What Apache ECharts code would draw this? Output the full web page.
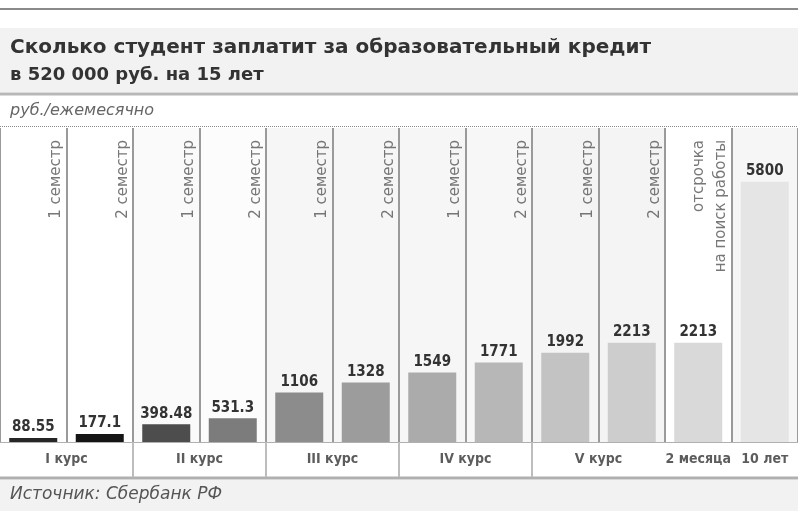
<!DOCTYPE html>
<html>
<head>
<meta charset="utf-8">
<script src="https://cdn.jsdelivr.net/npm/echarts@6/dist/echarts.min.js"></script>
<style>
  html, body { margin: 0; padding: 0; background: #fff; }
  #chart { width: 798px; height: 522px; }
</style>
</head>
<body>
<div id="chart"></div>
<script>
// semester / period captions, one per column
const semesters = ['1 семестр', '2 семестр', '1 семестр', '2 семестр', '1 семестр', '2 семестр',
  '1 семестр', '2 семестр', '1 семестр', '2 семестр', 'отсрочка\nна поиск работы', '']
// monthly payment, rub.
const payments = [88.55, 177.1, 398.48, 531.3, 1106, 1328, 1549, 1771, 1992, 2213, 2213, 5800]
// course groups under the columns and how many columns each covers
const groups = ['I курс', 'II курс', 'III курс', 'IV курс', 'V курс', '2 месяца', '10 лет']
const groupSpans = [2, 2, 2, 2, 2, 1, 1]

const barColors = ['#262626', '#151515', '#4d4d4d', '#7c7c7c', '#8c8c8c', '#9c9c9c',
  '#ababab', '#b7b7b7', '#c3c3c3', '#cdcdcd', '#d9d9d9', '#e5e5e5']
const colBg = ['#ffffff', '#ffffff', '#fafafa', '#fcfcfc', '#f6f6f6', '#f6f6f6',
  '#f6f6f6', '#f7f7f7', '#f4f4f4', '#f4f4f4', '#ffffff', '#f6f6f6']

const yMax = 7000
const narrow = '"DejaVu Sans Condensed", "Liberation Sans Narrow", sans-serif'

const chart = echarts.init(document.getElementById('chart'))

// group label positions on a 0..12 column scale
let start = 0
const groupData = groups.map((g, i) => {
  const d = { value: [start + groupSpans[i] / 2, 0.5], name: g }
  start += groupSpans[i]
  return d
})
const groupBounds = []
start = 0
groupSpans.forEach((s, i) => { if (i > 0 && i < 5) groupBounds.push({ xAxis: start }); start += s })

chart.setOption({
  animation: false,
  title: [
    { text: 'Сколько студент заплатит за образовательный кредит', left: 10, top: 38, padding: 0,
      textStyle: { fontFamily: 'DejaVu Sans', fontSize: 20, fontWeight: 'bold', color: '#333' } },
    { text: 'в 520 000 руб. на 15 лет', left: 10, top: 66, padding: 0,
      textStyle: { fontFamily: 'DejaVu Sans', fontSize: 18, fontWeight: 'bold', color: '#333' } },
    { text: 'руб./ежемесячно', left: 10, top: 103, padding: 0,
      textStyle: { fontFamily: 'DejaVu Sans', fontSize: 16, fontStyle: 'italic', fontWeight: 'normal', color: '#666' } },
    { text: 'Источник: Сбербанк РФ', left: 10, top: 486, padding: 0,
      textStyle: { fontFamily: 'DejaVu Sans', fontSize: 17, fontStyle: 'italic', fontWeight: 'normal', color: '#555' } }
  ],
  graphic: [
    { type: 'line', shape: { x1: 0, y1: 9, x2: 798, y2: 9 }, style: { stroke: '#8a8a8a', lineWidth: 2 } },
    { type: 'rect', shape: { x: 0, y: 28, width: 798, height: 64 }, style: { fill: '#f2f2f2' }, z: -10 },
    { type: 'line', shape: { x1: 0, y1: 94, x2: 798, y2: 94 }, style: { stroke: '#b8b8b8', lineWidth: 3 } },
    { type: 'line', shape: { x1: 0, y1: 126.5, x2: 798, y2: 126.5 }, style: { stroke: '#888', lineWidth: 1, lineDash: [1, 1] } },
    { type: 'line', shape: { x1: 0, y1: 478, x2: 798, y2: 478 }, style: { stroke: '#b0b0b0', lineWidth: 3 } },
    { type: 'rect', shape: { x: 0, y: 480, width: 798, height: 31 }, style: { fill: '#f2f2f2' }, z: -10 }
  ],
  grid: [
    { left: 0, right: 0, top: 128, bottom: 80 },
    { left: 0, right: 0, top: 442, height: 35 }
  ],
  xAxis: [
    {
      type: 'category', gridIndex: 0, data: payments.map((_, i) => String(i)),
      axisLine: { show: true, lineStyle: { color: '#b0b0b0', width: 1 } },
      axisTick: { show: false }, axisLabel: { show: false },
      splitLine: { show: true, interval: 0, lineStyle: { color: '#9a9a9a', width: 2 } },
      splitArea: { show: true, interval: 0, areaStyle: { color: colBg } }
    },
    { type: 'value', gridIndex: 1, min: 0, max: payments.length, show: false },
    { type: 'value', gridIndex: 0, min: 0, max: payments.length, show: false }
  ],
  yAxis: [
    { type: 'value', gridIndex: 0, min: 0, max: yMax, show: false },
    { type: 'value', gridIndex: 1, min: 0, max: 1, show: false }
  ],
  series: [
    {
      type: 'bar', xAxisIndex: 0, yAxisIndex: 0, barWidth: 48,
      data: payments.map((v, i) => ({ value: v, itemStyle: { color: barColors[i] } })),
      label: {
        show: true, position: 'top', distance: 3,
        fontFamily: narrow, fontSize: 15, fontWeight: 'bold', color: '#333'
      }
    },
    {
      type: 'scatter', xAxisIndex: 2, yAxisIndex: 0, symbolSize: 1,
      itemStyle: { color: 'transparent' },
      data: semesters.map((s, i) => ({ value: [i + 1, yMax], name: s })),
      label: {
        show: true, position: 'inside', formatter: p => p.name,
        rotate: 90, align: 'right', verticalAlign: 'bottom',
        offset: [-12, 1], lineHeight: 22,
        fontFamily: 'DejaVu Sans', fontSize: 15, color: '#555'
      }
    },
    {
      type: 'scatter', xAxisIndex: 1, yAxisIndex: 1, symbolSize: 1,
      itemStyle: { color: 'transparent' },
      data: groupData,
      label: {
        show: true, position: 'inside', formatter: p => p.name,
        fontFamily: narrow, fontSize: 14, fontWeight: 'bold', color: '#333'
      },
      markLine: {
        silent: true, symbol: 'none', label: { show: false },
        lineStyle: { color: '#bdbdbd', width: 2, type: 'solid' },
        data: groupBounds
      }
    }
  ]
})
</script>
</body>
</html>
